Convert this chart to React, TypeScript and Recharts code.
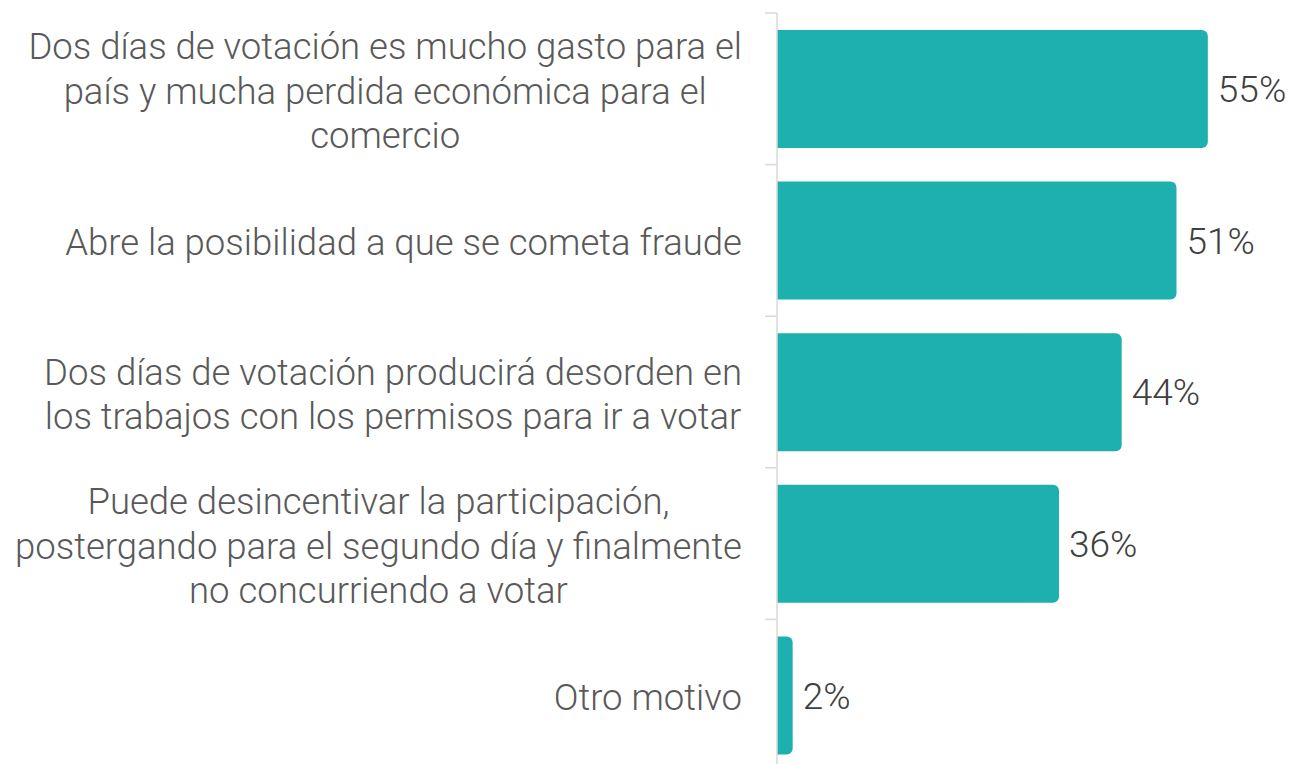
import { BarChart, Bar, XAxis, YAxis, LabelList } from 'recharts';

// categorías con los saltos de línea del original
const categories = [
    'Dos días de votación es mucho gasto para el\npaís y mucha perdida económica para el\ncomercio',
    'Abre la posibilidad a que se cometa fraude',
    'Dos días de votación producirá desorden en\nlos trabajos con los permisos para ir a votar',
    'Puede desincentivar la participación,\npostergando para el segundo día y finalmente\nno concurriendo a votar',
    'Otro motivo',
];
const values = [55, 51, 44, 36, 2];

const data = categories.map((name, i) => ({ name, value: values[i] }));

const CHART_W = 1291;
const CHART_H = 771;
const MARGIN = { top: 13, right: 44, bottom: 0, left: 0 };
const AXIS_W = 777;
const BAND = (CHART_H - MARGIN.top - MARGIN.bottom) / categories.length;
const LINE_H = 44.5;
const TEXT_RIGHT = AXIS_W - 35;

const FONT = 'Roboto, "Noto Sans", sans-serif';
const FONT_SIZE = 36.5;
const FONT_WEIGHT = 300;

// medir texto para centrar cada bloque y alinearlo a la derecha
let ctx: CanvasRenderingContext2D | null = null;
const measure = (s: string) => {
    if (!ctx) ctx = document.createElement('canvas').getContext('2d');
    if (!ctx) return s.length * FONT_SIZE * 0.5;
    ctx.font = `${FONT_WEIGHT} ${FONT_SIZE}px Roboto`;
    return ctx.measureText(s).width;
};

const CategoryTick = (props: any) => {
    const { y, payload, index } = props;
    const lines: string[] = String(payload.value).split('\n');
    const maxW = Math.max(...lines.map(measure));
    const cx = TEXT_RIGHT - maxW / 2;
    const startY = y + 2 - ((lines.length - 1) * LINE_H) / 2;
    return (
        <g>
            <line x1={AXIS_W - 12} x2={AXIS_W} y1={y - BAND / 2} y2={y - BAND / 2} stroke="#d9d9d9" strokeWidth={1.5} />
            {index === categories.length - 1 && (
                <line x1={AXIS_W - 12} x2={AXIS_W} y1={y + BAND / 2} y2={y + BAND / 2} stroke="#d9d9d9" strokeWidth={1.5} />
            )}
            <text
                x={cx}
                y={startY}
                textAnchor="middle"
                dominantBaseline="central"
                fill="#595959"
                fontSize={FONT_SIZE}
                fontWeight={FONT_WEIGHT}
                fontFamily={FONT}
            >
                {lines.map((l, i) => (
                    <tspan key={i} x={cx} y={startY + i * LINE_H}>
                        {l}
                    </tspan>
                ))}
            </text>
        </g>
    );
};

export default function App() {
    return (
        <div style={{ position: 'absolute', left: 0, top: 0, width: CHART_W, height: 764, overflow: 'hidden', background: '#fff' }}>
            <BarChart width={CHART_W} height={CHART_H} data={data} layout="vertical" margin={MARGIN}>
                <XAxis type="number" domain={[0, 60]} hide />
                <YAxis
                    type="category"
                    dataKey="name"
                    width={AXIS_W}
                    axisLine={{ stroke: '#d9d9d9', strokeWidth: 1.5 }}
                    tickLine={false}
                    tick={(p: any) => <CategoryTick {...p} />}
                    interval={0}
                />
                <Bar dataKey="value" fill="#1DB0AE" barSize={118} radius={[0, 6, 6, 0]} isAnimationActive={false}>
                    <LabelList
                        dataKey="value"
                        position="right"
                        offset={10}
                        formatter={(v: any) => `${v}%`}
                        fill="#404040"
                        fontSize={37}
                        fontWeight={FONT_WEIGHT}
                        fontFamily={FONT}
                    />
                </Bar>
            </BarChart>
        </div>
    );
}
